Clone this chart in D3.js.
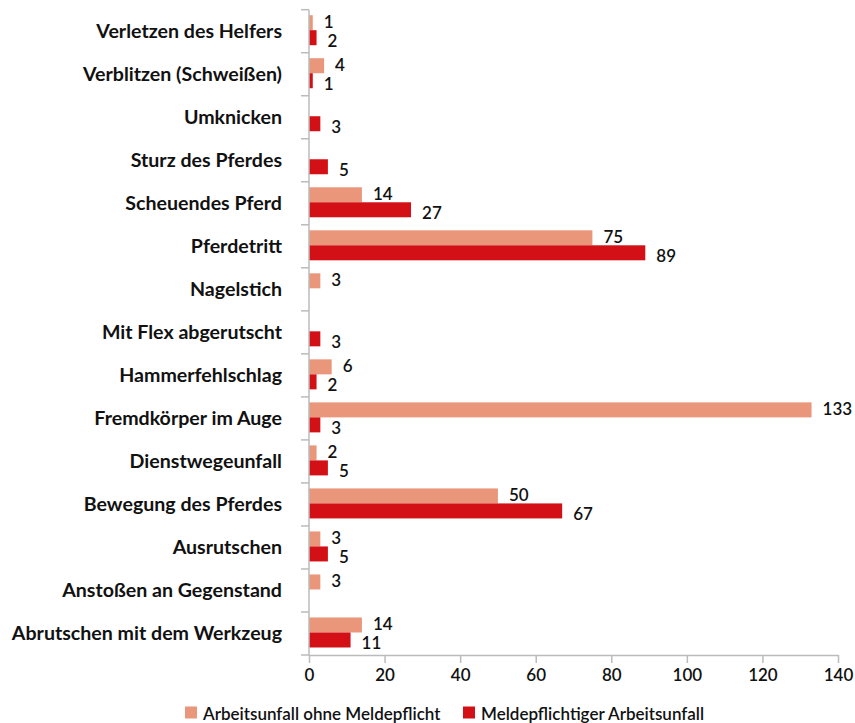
<!DOCTYPE html>
<html>
<head>
<meta charset="utf-8">
<script src="https://cdn.jsdelivr.net/npm/d3@7"></script>
<style>
  body { margin: 0; background: #fff; }
  svg { font-family: Lato, "Open Sans", sans-serif; }
</style>
</head>
<body>
<div id="chart"></div>
<script>
const categories = ["Verletzen des Helfers", "Verblitzen (Schweißen)", "Umknicken", "Sturz des Pferdes",
  "Scheuendes Pferd", "Pferdetritt", "Nagelstich", "Mit Flex abgerutscht", "Hammerfehlschlag",
  "Fremdkörper im Auge", "Dienstwegeunfall", "Bewegung des Pferdes", "Ausrutschen",
  "Anstoßen an Gegenstand", "Abrutschen mit dem Werkzeug"];
// null = no bar in the picture
const ohneMeldepflicht = [1, 4, null, null, 14, 75, 3, null, 6, 133, 2, 50, 3, 3, 14];
const meldepflichtig   = [2, 1, 3, 5, 27, 89, null, 3, 2, 3, 5, 67, 5, null, 11];
const seriesNames = ["Arbeitsunfall ohne Meldepflicht", "Meldepflichtiger Arbeitsunfall"];
const xTicks = [0, 20, 40, 60, 80, 100, 120, 140];

const width = 855, height = 723;
const margin = {top: 9.7, right: 17, bottom: 68, left: 309};
const colors = ["#e9967a", "#d31016"];

const svg = d3.select("#chart").append("svg")
  .attr("width", width)
  .attr("height", height);

const x = d3.scaleLinear()
  .domain([0, 140])
  .range([margin.left, width - margin.right]);

const y = d3.scaleBand()
  .domain(categories)
  .range([margin.top, height - margin.bottom]);

const barH = 15;

// rows: one entry per bar
const rows = [];
categories.forEach(function(c, i) {
  [ohneMeldepflicht[i], meldepflichtig[i]].forEach(function(v, s) {
    if (v !== null) rows.push({cat: c, s: s, v: v});
  });
});

function barY(d) { return y(d.cat) + 5.5 + d.s * barH; }

svg.selectAll("rect.bar")
  .data(rows)
  .join("rect")
    .attr("class", "bar")
    .attr("x", x(0))
    .attr("y", barY)
    .attr("width", d => x(d.v) - x(0))
    .attr("height", barH)
    .attr("fill", d => colors[d.s]);

svg.selectAll("text.val")
  .data(rows)
  .join("text")
    .attr("class", "val")
    .attr("x", d => x(d.v) + 11)
    .attr("y", d => barY(d) + barH / 2 + (d.s ? 2.5 : -1.5))
    .attr("dominant-baseline", "central")
    .style("font-size", "17px")
    .style("font-weight", "600")
    .style("fill", "#111")
    .text(d => d.v);

// left axis: vertical line with ticks at band edges
const gy = svg.append("g");
gy.append("line")
  .attr("x1", x(0)).attr("x2", x(0))
  .attr("y1", y.range()[0]).attr("y2", y.range()[1])
  .attr("stroke", "#bbb").attr("stroke-width", 1.5);
const edges = categories.map(c => y(c)).concat([y.range()[1]]);
gy.selectAll("line.edge")
  .data(edges)
  .join("line")
    .attr("class", "edge")
    .attr("x1", x(0) - 8).attr("x2", x(0))
    .attr("y1", d => d).attr("y2", d => d)
    .attr("stroke", "#bbb").attr("stroke-width", 1.5);
gy.selectAll("text")
  .data(categories)
  .join("text")
    .attr("x", x(0) - 27)
    .attr("y", d => y(d) + y.bandwidth() / 2 - 1)
    .attr("dominant-baseline", "central")
    .attr("text-anchor", "end")
    .style("font-size", "19.6px")
    .style("font-weight", "bold")
    .style("fill", "#111")
    .text(d => d);

// bottom axis
const axisY = y.range()[1];
const gx = svg.append("g")
  .attr("transform", `translate(0,${axisY})`)
  .call(d3.axisBottom(x).tickValues(xTicks).tickSize(8).tickSizeOuter(0).tickPadding(6));
gx.select(".domain").attr("stroke", "#bbb").attr("stroke-width", 1.5);
gx.selectAll(".tick line").attr("stroke", "#bbb").attr("stroke-width", 1.5);
gx.selectAll(".tick text")
  .style("font-family", "Lato, sans-serif")
  .style("font-size", "17px")
  .style("font-weight", "600")
  .style("fill", "#111");

// legend
const legend = svg.append("g");
const legX = [185, 463];
seriesNames.forEach(function(name, i) {
  legend.append("rect")
    .attr("x", legX[i]).attr("y", 706.5)
    .attr("width", 12).attr("height", 12)
    .attr("fill", colors[i]);
  legend.append("text")
    .attr("x", legX[i] + 18).attr("y", 713)
    .attr("dominant-baseline", "central")
    .style("font-size", "17px")
    .style("font-weight", "600")
    .style("fill", "#111")
    .text(name);
});
</script>
</body>
</html>
